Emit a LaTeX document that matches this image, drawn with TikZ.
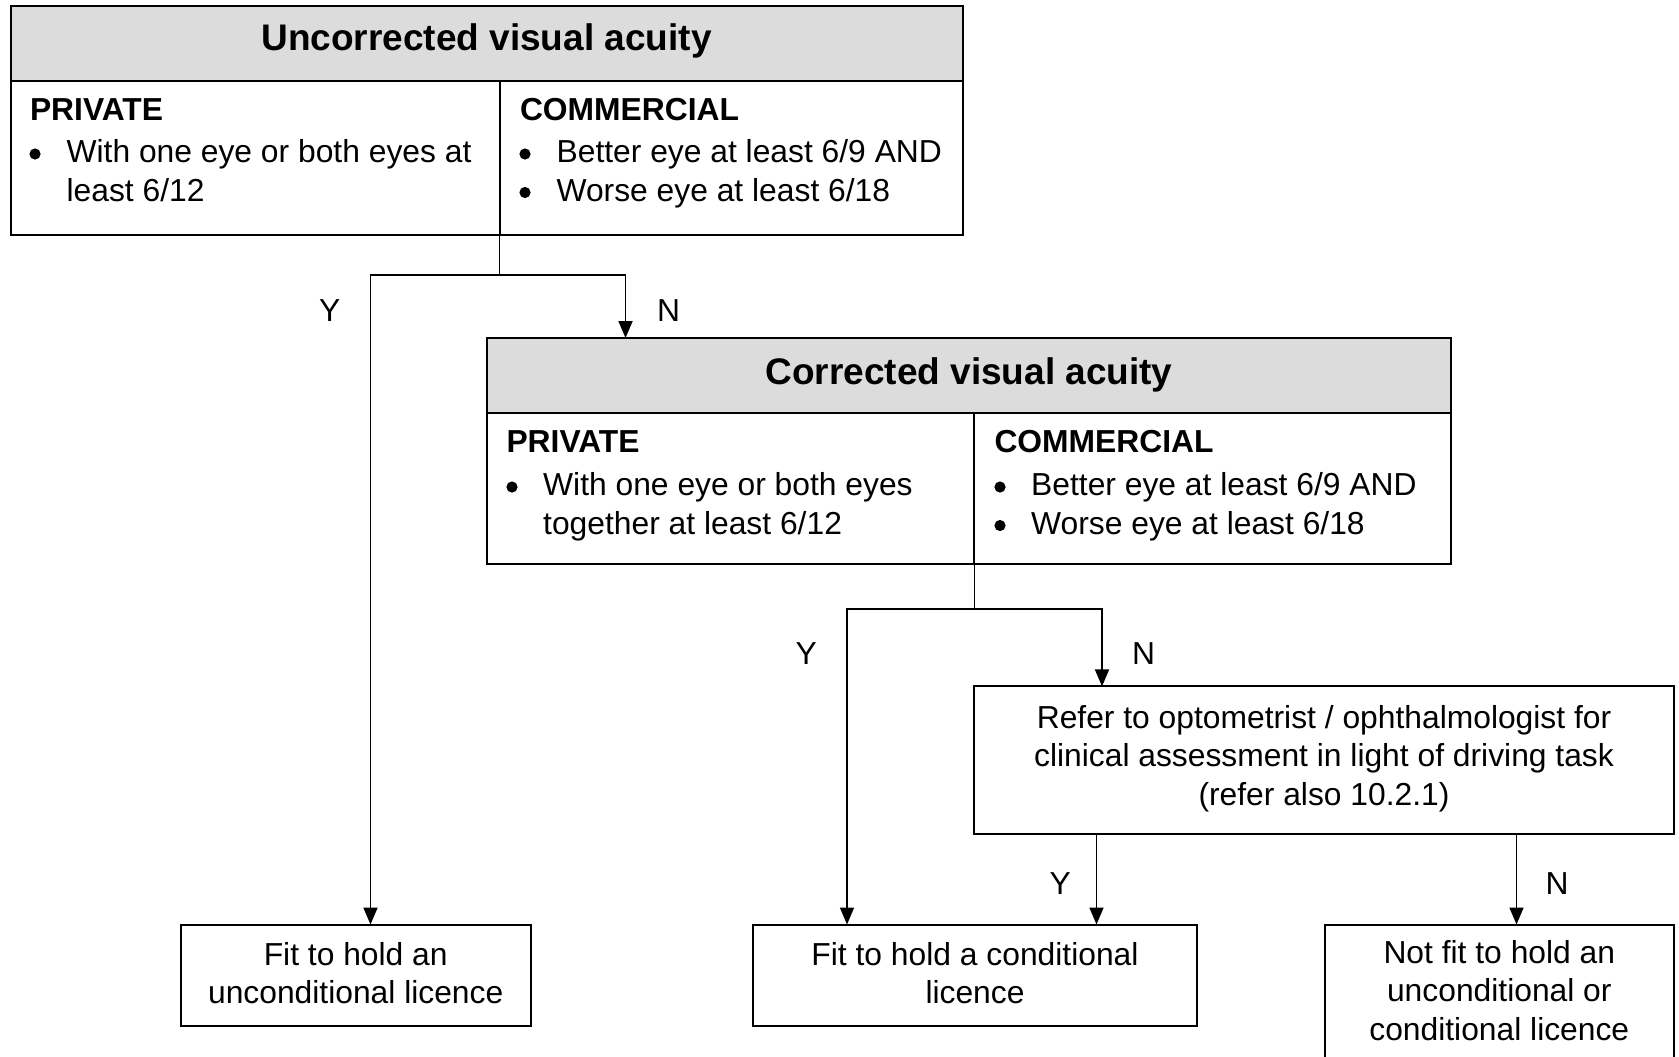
\documentclass[tikz,border=0pt]{standalone}
\usepackage{fontspec}
\setmainfont{Liberation Sans}
\usetikzlibrary{arrows.meta}
\definecolor{hdr}{RGB}{220,220,220}
\begin{document}
\begin{tikzpicture}[x=0.5pt,y=-0.5pt,
  box/.style={draw, line width=1pt, inner sep=0pt, outer sep=0pt, anchor=north west},
  hbox/.style={box, fill=hdr},
  conn/.style={draw, line width=0.9pt},
  arr/.style={conn, -{Triangle[length=8.5pt,width=7pt]}},
  txt/.style={inner sep=0pt, outer sep=0pt, font=\fontsize{15.9}{19.25}\selectfont},
  lbl/.style={txt, anchor=base west, font=\fontsize{15.9}{19.25}\selectfont\bfseries},
  htxt/.style={inner sep=0pt, outer sep=0pt, anchor=base, font=\fontsize{18.5}{22}\selectfont\bfseries},
  item/.style={txt, anchor=base west},
  dot/.style={circle, fill, inner sep=0pt, outer sep=0pt, minimum size=5.6pt},
  ctr/.style={txt, anchor=base},
  yn/.style={txt, anchor=base}
]
\useasboundingbox (0,0) rectangle (1679,1056);
\clip (0,0) rectangle (1679,1056);

% ---- Box 1: Uncorrected visual acuity
\node[hbox, minimum width=476pt, minimum height=37.5pt] (b1h) at (10.5,5.5) {};
\node[box, minimum width=476pt, minimum height=114.5pt] (b1) at (10.5,5.5) {};
\node[htxt] (b1t) at (486.5,50.5) {Uncorrected visual acuity};
\coordinate (d1) at (499.5,80.5);
\draw[line width=1pt] (d1) -- (d1 |- b1.south);
\node[lbl] (b1p) at (30,120) {PRIVATE};
\node[dot] (b1pd) at (35,154) {};
\node[item] (b1pi) at (66.6,162.5) {\begin{tabular}[t]{@{}l@{}}With one eye or both eyes at\\least 6/12\end{tabular}};
\node[lbl] (b1c) at (520,120) {COMMERCIAL};
\node[dot] (b1cd1) at (525,154) {};
\node[dot] (b1cd2) at (525,192.5) {};
\node[item] (b1ci) at (556.6,162.5) {\begin{tabular}[t]{@{}l@{}}Better eye at least 6/9 AND\\Worse eye at least 6/18\end{tabular}};

% ---- Box 2: Corrected visual acuity
\node[hbox, minimum width=482pt, minimum height=37.65pt] (b2h) at (487,338) {};
\node[box, minimum width=482pt, minimum height=113.15pt] (b2) at (487,338) {};
\node[htxt] (b2t) at (969,384) {Corrected visual acuity};
\coordinate (d2) at (974.4,413.3);
\draw[line width=1pt] (d2) -- (d2 |- b2.south);
\node[lbl] (b2p) at (506.5,452.5) {PRIVATE};
\node[dot] (b2pd) at (512,487) {};
\node[item] (b2pi) at (543.2,495.5) {\begin{tabular}[t]{@{}l@{}}With one eye or both eyes\\together at least 6/12\end{tabular}};
\node[lbl] (b2c) at (994.5,452.5) {COMMERCIAL};
\node[dot] (b2cd1) at (1000,487) {};
\node[dot] (b2cd2) at (1000,525.5) {};
\node[item] (b2ci) at (1031.2,495.5) {\begin{tabular}[t]{@{}l@{}}Better eye at least 6/9 AND\\Worse eye at least 6/18\end{tabular}};

% ---- Refer box
\node[box, minimum width=349.65pt, minimum height=73.9pt] (rf) at (974.4,686.4) {};
\node[ctr] (rft) at (1324,728.3) {\begin{tabular}[t]{@{}c@{}}Refer to optometrist / ophthalmologist for\\clinical assessment in light of driving task\\(refer also 10.2.1)\end{tabular}};

% ---- Outcome boxes
\node[box, minimum width=175pt, minimum height=50.75pt] (unc) at (180.7,924.5) {};
\node[ctr] (unct) at (355.7,965) {\begin{tabular}[t]{@{}c@{}}Fit to hold an\\unconditional licence\end{tabular}};
\node[box, minimum width=222.2pt, minimum height=50.75pt] (cnd) at (752.8,924.5) {};
\node[ctr] (cndt) at (975,965) {\begin{tabular}[t]{@{}c@{}}Fit to hold a conditional\\licence\end{tabular}};
\node[box, minimum width=174.75pt, minimum height=80pt] (nf) at (1324.5,924.5) {};
\node[ctr] (nft) at (1499.3,963.3) {\begin{tabular}[t]{@{}c@{}}Not fit to hold an\\unconditional or\\conditional licence\end{tabular}};

% ---- Connectors from box 1
\coordinate (j1) at (499.5,275);
\coordinate (j1y) at (370.5,275);
\coordinate (j1n) at (625.5,275);
\draw[conn] (j1 |- b1.south) -- (j1);
\draw[arr] (j1) -- (j1y) -- (j1y |- unc.north);
\draw[arr] (j1) -- (j1n) -- (j1n |- b2.north);
\node[yn] (y1) at (329.8,321.7) {Y};
\node[yn] (n1) at (668.5,321.7) {N};

% ---- Connectors from box 2
\coordinate (j2) at (974.4,609.3);
\coordinate (j2y) at (847,609.3);
\coordinate (j2n) at (1102,609.3);
\draw[conn] (j2 |- b2.south) -- (j2);
\draw[arr] (j2) -- (j2y) -- (j2y |- cnd.north);
\draw[arr] (j2) -- (j2n) -- (j2n |- rf.north);
\node[yn] (y2) at (806.3,664.3) {Y};
\node[yn] (n2) at (1143.6,664.3) {N};

% ---- Connectors from refer box
\coordinate (r3y) at (1096.5,834.2);
\coordinate (r3n) at (1516.5,834.2);
\draw[arr] (r3y |- rf.south) -- (r3y |- cnd.north);
\draw[arr] (r3n |- rf.south) -- (r3n |- nf.north);
\node[yn] (y3) at (1060.1,894) {Y};
\node[yn] (n3) at (1557,894) {N};
\end{tikzpicture}
\end{document}
